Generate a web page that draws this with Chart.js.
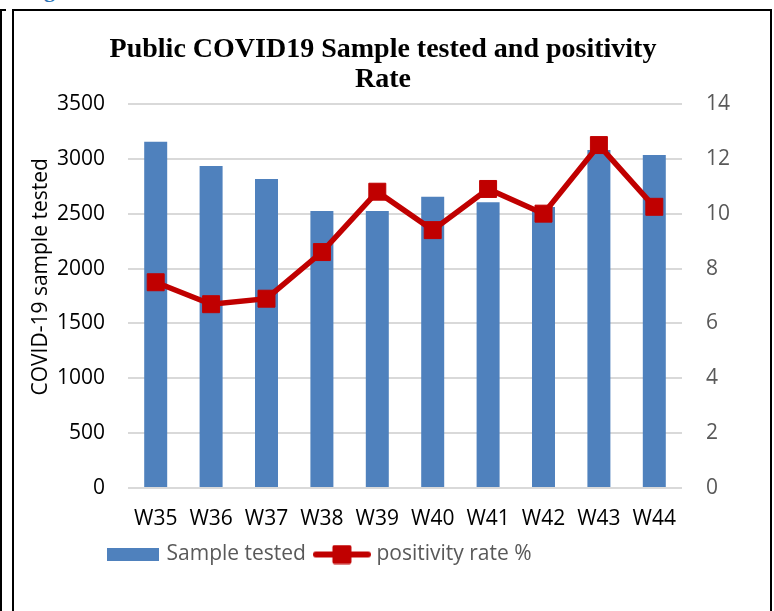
<!DOCTYPE html>
<html>
<head>
<meta charset="utf-8">
<script src="https://cdn.jsdelivr.net/npm/chart.js@4/dist/chart.umd.min.js"></script>
<style>
  html, body { margin: 0; padding: 0; background: #ffffff; overflow: hidden; }
  body { width: 774px; height: 611px; position: relative; }
  #chartCanvas { position: absolute; left: 0; top: 0; }
  .frame { position: absolute; left: 12px; top: 9px; width: 756px; height: 640px; border: 2px solid #000; pointer-events: none; }
  .outer { position: absolute; left: 0; top: 9px; width: 4px; height: 640px; border-left: 2px solid #000; border-top: 2px solid #000; pointer-events: none; }
  .cut { position: absolute; left: 44px; top: -21px; font: bold 22px/22px "Liberation Serif", serif; color: #2E74B5; }
</style>
</head>
<body>
<div class="cut">g</div>
<div class="outer"></div>
<div class="frame"></div>
<canvas id="chartCanvas" width="774" height="611"></canvas>
<script>
const weeks = ["W35", "W36", "W37", "W38", "W39", "W40", "W41", "W42", "W43", "W44"];
const samplesTested = [3155, 2935, 2815, 2525, 2525, 2655, 2605, 2560, 3080, 3035];
const positivityRate = [7.5, 6.7, 6.9, 8.6, 10.8, 9.4, 10.9, 10.0, 12.5, 10.25];
const titleLines = ["Public COVID19 Sample tested and positivity", "Rate"];

const barColor = "#4F81BD";
const lineColor = "#C00000";
const gridColor = "#D9D9D9";
const grayText = "#595959";
const sansFont = "'Open Sans', 'Liberation Sans', sans-serif";

// legend swatches, drawn once as small canvases
function makeBarSwatch() {
  const c = document.createElement("canvas");
  c.width = 54;
  c.height = 13;
  const g = c.getContext("2d");
  g.fillStyle = barColor;
  g.fillRect(2, 0, 52, 13);
  return c;
}

function makeLineSwatch() {
  const c = document.createElement("canvas");
  c.width = 58;
  c.height = 20;
  const g = c.getContext("2d");
  g.strokeStyle = lineColor;
  g.lineWidth = 6;
  g.lineCap = "round";
  g.beginPath();
  g.moveTo(3, 10);
  g.lineTo(55, 10);
  g.stroke();
  g.fillStyle = lineColor;
  g.beginPath();
  g.roundRect(19.5, 0.5, 19, 19, 2);
  g.fill();
  return c;
}

const swatches = [makeBarSwatch(), makeLineSwatch()];

// Excel put the legend block left of centre; nudge it after layout
const legendShift = {
  id: "legendShift",
  afterLayout(chart) {
    if (chart.legend) {
      chart.legend.left = 96;
    }
  },
};

const ctx = document.getElementById("chartCanvas").getContext("2d");

new Chart(ctx, {
  data: {
    labels: weeks,
    datasets: [
      {
        type: "bar",
        label: "Sample tested",
        data: samplesTested,
        yAxisID: "y",
        backgroundColor: barColor,
        barPercentage: 0.415,
        categoryPercentage: 1,
        order: 2,
      },
      {
        type: "line",
        label: "positivity rate %",
        data: positivityRate,
        yAxisID: "y1",
        borderColor: lineColor,
        backgroundColor: lineColor,
        borderWidth: 5.5,
        pointStyle: "rect",
        pointRadius: 12,
        pointBorderWidth: 1,
        pointBackgroundColor: lineColor,
        pointBorderColor: lineColor,
        tension: 0,
        order: 1,
      },
    ],
  },
  options: {
    responsive: false,
    animation: false,
    devicePixelRatio: 1,
    layout: {
      padding: { left: 22, right: 30, top: 18, bottom: 36 },
    },
    scales: {
      x: {
        grid: { display: false, drawTicks: false },
        border: { display: false },
        ticks: {
          color: "#000000",
          padding: 18,
          font: { family: sansFont, size: 21 },
        },
        afterFit(scale) {
          scale.height = 44;
        },
      },
      y: {
        position: "left",
        min: 0,
        max: 3500,
        ticks: {
          stepSize: 500,
          color: "#000000",
          padding: 23,
          font: { family: sansFont, size: 21 },
          callback: (value) => String(value),
        },
        grid: { color: gridColor, lineWidth: 2, drawTicks: false },
        border: { display: false },
        title: {
          display: true,
          // leading spaces lift the label a little, as in the original
          text: "       COVID-19 sample tested",
          color: "#000000",
          padding: { top: 6, bottom: 0 },
          font: { family: sansFont, size: 21 },
        },
        afterFit(scale) {
          scale.width = 106;
        },
      },
      y1: {
        position: "right",
        min: 0,
        max: 14,
        ticks: {
          stepSize: 2,
          color: grayText,
          padding: 24,
          font: { family: sansFont, size: 21 },
        },
        grid: { display: false, drawTicks: false },
        border: { display: false },
        afterFit(scale) {
          scale.width = 62;
        },
      },
    },
    plugins: {
      title: {
        display: true,
        text: titleLines,
        color: "#000000",
        font: { family: "'Liberation Serif', 'Times New Roman', serif", size: 28, weight: "bold", lineHeight: 1.07 },
        padding: { top: 17, bottom: 9 },
      },
      legend: {
        position: "bottom",
        align: "start",
        maxHeight: 44,
        labels: {
          usePointStyle: true,
          pointStyleWidth: 48,
          padding: 12,
          color: grayText,
          font: { family: sansFont, size: 21 },
          sort: (a, b) => a.datasetIndex - b.datasetIndex,
          generateLabels(chart) {
            const items = Chart.defaults.plugins.legend.labels.generateLabels(chart);
            items.forEach((item) => {
              item.pointStyle = swatches[item.datasetIndex];
            });
            return items;
          },
        },
      },
      tooltip: { enabled: false },
    },
  },
  plugins: [legendShift],
});
</script>
</body>
</html>
